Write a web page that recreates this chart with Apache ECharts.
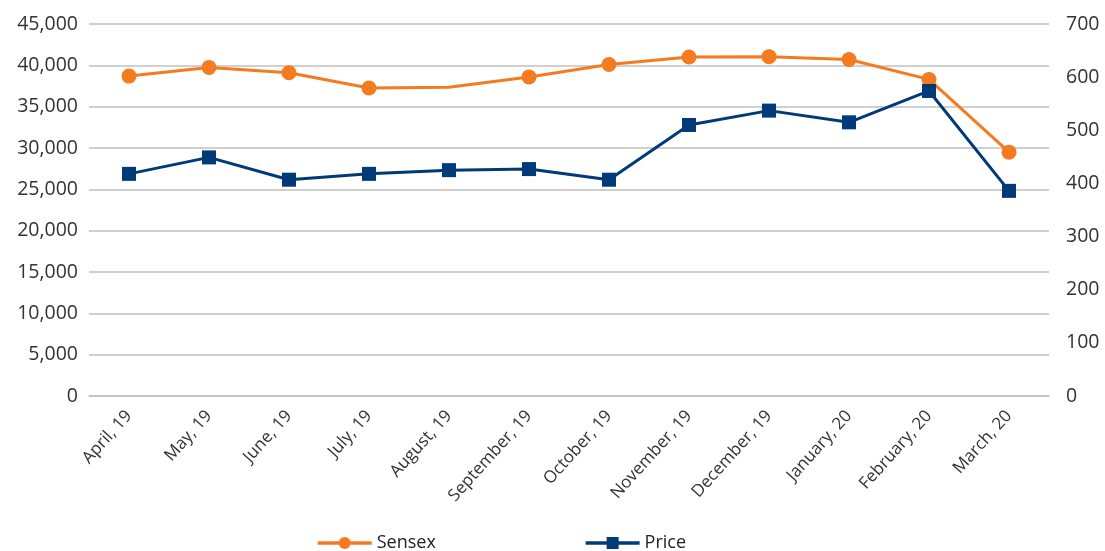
<!DOCTYPE html>
<html><head><meta charset="utf-8">
<script src="https://cdn.jsdelivr.net/npm/echarts@6/dist/echarts.min.js"></script>
<style>html,body{margin:0;padding:0;background:#fff}#c{width:1105px;height:551px}</style>
</head><body><div id="c"></div>
<script>
const categories = ['April, 19','May, 19','June, 19','July, 19','August, 19','September, 19','October, 19','November, 19','December, 19','January, 20','February, 20','March, 20'];
const sensex = [38700, 39750, 39100, 37250, 37350, 38600, 40100, 41000, 41050, 40700, 38300, 29500];
const price = [418, 449, 407, 418, 425, 427, 407, 510, 537, 515, 574, 386];
const noMarkerIndex = 4; // August, 19 Sensex point has no marker

const FONT = 'Open Sans';
const chart = echarts.init(document.getElementById('c'), null, {renderer:'canvas'});
chart.setOption({
  animation:false,
  textStyle:{fontFamily:FONT},
  grid:{left:89, right:56, top:24, bottom:155, containLabel:false},
  legend:{
    left:311, top:529, itemWidth:54, itemHeight:15, itemGap:148,
    lineStyle:{width:3.5},
    textStyle:{fontFamily:FONT, fontSize:18, color:'#222'},
    data:['Sensex','Price']
  },
  xAxis:{
    type:'category', data:categories, boundaryGap:true,
    axisLine:{show:true, lineStyle:{color:'#c0c0c0', width:1.5}},
    axisTick:{show:false},
    axisLabel:{rotate:48, fontSize:17, color:'#333', fontFamily:FONT, margin:17, interval:0}
  },
  yAxis:[
    {type:'value', min:0, max:45000, interval:5000,
     axisLine:{show:false}, axisTick:{show:false},
     splitLine:{lineStyle:{color:'#c0c0c0', width:1.5}},
     axisLabel:{fontSize:19.5, color:'#333', margin:11, fontFamily:FONT,
       formatter:v=>v.toLocaleString('en-US')}},
    {type:'value', min:0, max:700, interval:100, position:'right',
     axisLine:{show:false}, axisTick:{show:false}, splitLine:{show:false},
     axisLabel:{fontSize:19.5, color:'#333', margin:17, fontFamily:FONT}}
  ],
  series:[
    {name:'Sensex', type:'line', yAxisIndex:0,
     data:sensex.map((v,i)=> i===noMarkerIndex ? {value:v, symbol:'none'} : v),
     symbol:'circle', symbolSize:15,
     lineStyle:{color:'#F47B20', width:3}, itemStyle:{color:'#F47B20'}},
    {name:'Price', type:'line', yAxisIndex:1, data:price,
     symbol:'rect', symbolSize:14,
     lineStyle:{color:'#003A78', width:3}, itemStyle:{color:'#003A78'}}
  ]
});
</script></body></html>
